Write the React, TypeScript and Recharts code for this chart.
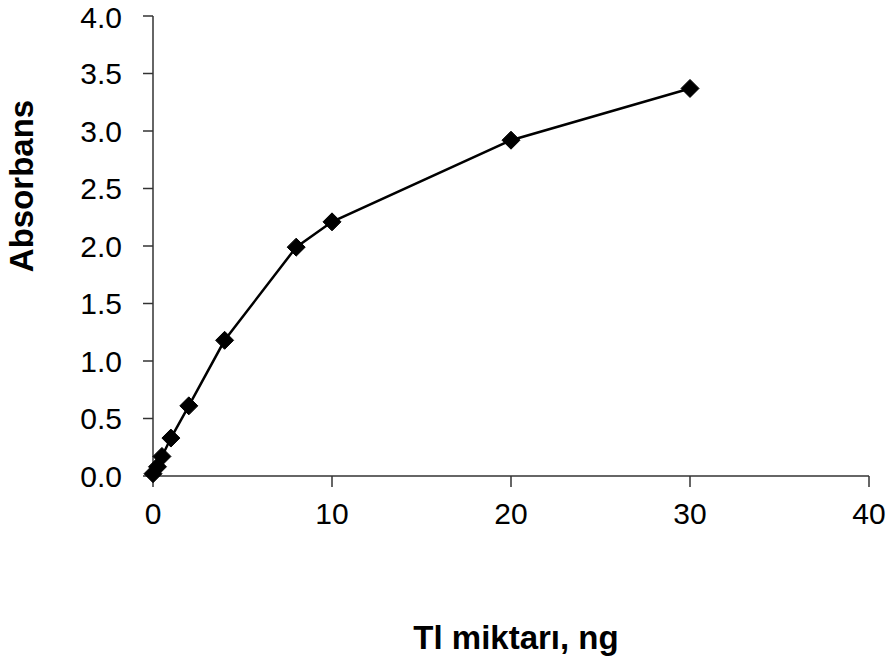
import React from 'react';
import { LineChart, Line, XAxis, YAxis, Label } from 'recharts';

const amounts = [0, 0.25, 0.5, 1, 2, 4, 8, 10, 20, 30];
const absorbance = [0.02, 0.08, 0.17, 0.33, 0.61, 1.18, 1.99, 2.21, 2.92, 3.37];
const xTicks = [0, 10, 20, 30, 40];
const yTicks = [0, 0.5, 1, 1.5, 2, 2.5, 3, 3.5, 4];

const data = amounts.map((x, i) => ({ x, y: absorbance[i] }));

const font = '"Liberation Sans", Arial, sans-serif';

const Diamond = (props: any) => {
  const { cx, cy } = props;
  if (cx == null || cy == null) return null;
  const r = 9;
  return (
    <polygon
      points={`${cx},${cy - r} ${cx + r},${cy} ${cx},${cy + r} ${cx - r},${cy}`}
      fill="#000"
      stroke="#000"
    />
  );
};

const App: React.FC = () => {
  return (
    <div style={{ position: 'absolute', left: 0, top: 0, background: '#fff' }}>
      <LineChart
        width={895}
        height={662}
        data={data}
        margin={{ top: 16, right: 26, left: 73, bottom: 156 }}
      >
        <XAxis
          dataKey="x"
          type="number"
          domain={[0, 40]}
          ticks={xTicks}
          tickSize={11}
          tickMargin={16}
          axisLine={{ stroke: '#333', strokeWidth: 1.5 }}
          tickLine={{ stroke: '#333', strokeWidth: 1.5 }}
          tick={{ fill: '#000', fontSize: 30, fontFamily: font }}
          height={30}
        >
          <Label
            content={() => (
              <text
                x={516}
                y={649}
                textAnchor="middle"
                fontFamily={font}
                fontSize={33}
                fontWeight="bold"
                fill="#000"
              >
                Tl miktarı, ng
              </text>
            )}
          />
        </XAxis>
        <YAxis
          type="number"
          domain={[0, 4]}
          ticks={yTicks}
          width={80}
          tickSize={10}
          tickMargin={21}
          tickFormatter={(v: number) => v.toFixed(1)}
          axisLine={{ stroke: '#333', strokeWidth: 1.5 }}
          tickLine={{ stroke: '#333', strokeWidth: 1.5 }}
          tick={{ fill: '#000', fontSize: 30, fontFamily: font }}
        >
          <Label
            content={() => (
              <text
                x={33}
                y={186}
                transform="rotate(-90 33 186)"
                textAnchor="middle"
                fontFamily={font}
                fontSize={33}
                fontWeight="bold"
                fill="#000"
              >
                Absorbans
              </text>
            )}
          />
        </YAxis>
        <Line
          dataKey="y"
          stroke="#000"
          strokeWidth={2.5}
          dot={<Diamond />}
          activeDot={false}
          isAnimationActive={false}
        />
      </LineChart>
    </div>
  );
};

export default App;
